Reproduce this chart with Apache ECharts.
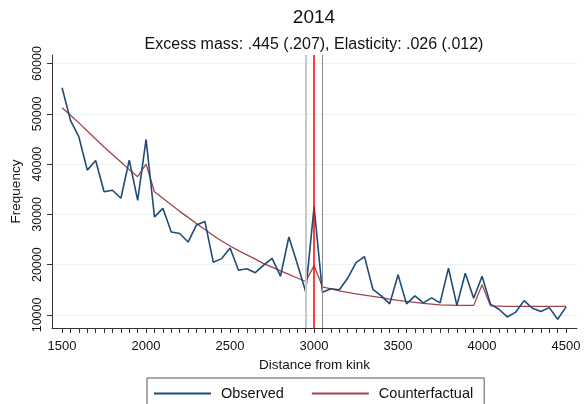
<!DOCTYPE html>
<html>
<head>
<meta charset="utf-8">
<script src="https://cdn.jsdelivr.net/npm/echarts@6/dist/echarts.min.js"></script>
<style>
html,body{margin:0;padding:0;background:#fff;}
#chart{width:585px;height:404px;}
</style>
</head>
<body>
<div id="chart"></div>
<script>
const distance = [1500,1550,1600,1650,1700,1750,1800,1850,1900,1950,2000,2050,2100,2150,2200,2250,2300,2350,2400,2450,2500,2550,2600,2650,2700,2750,2800,2850,2900,2950,3000,3050,3100,3150,3200,3250,3300,3350,3400,3450,3500,3550,3600,3650,3700,3750,3800,3850,3900,3950,4000,4050,4100,4150,4200,4250,4300,4350,4400,4450,4500];
const observed = [55200,48700,45400,38800,40700,34500,34800,33200,40800,32800,44900,29500,31200,26500,26200,24500,27900,28600,20500,21200,23300,18900,19200,18400,19900,21250,17700,25500,20200,14600,31500,14500,15200,15000,17300,20400,21600,15100,13800,12200,18000,12200,13800,12400,13400,12400,19300,11900,18300,13300,17700,12150,11130,9600,10550,12840,11330,10700,11450,9140,11600];
const counterfactual = [51200,49700,48200,46600,45000,43400,41900,40400,38900,37500,40000,34500,33200,31900,30600,29400,28200,27000,25800,24700,23700,22800,21950,21100,20200,19500,18750,18050,17350,16650,19800,15600,15200,14800,14500,14200,13950,13700,13450,13150,12900,12700,12500,12300,12150,12000,11950,11900,11900,11900,16000,11800,11750,11700,11700,11700,11700,11700,11700,11700,11700];
const xLabels = [1500,2000,2500,3000,3500,4000,4500];
const yLabels = [10000,20000,30000,40000,50000,60000];
const kink = 3000;
const windowLow = 2950;
const windowHigh = 3050;

const FONT = '"Liberation Sans", Arial, sans-serif';
const chart = echarts.init(document.getElementById('chart'), null, {renderer:'canvas'});
chart.setOption({
  animation:false,
  backgroundColor:'#ffffff',
  title:[
    {text:'2014', left:314, top:8, textAlign:'center', padding:0,
     textStyle:{fontFamily:FONT, fontSize:19, fontWeight:'normal', color:'#111'}},
    {text:'Excess mass: .445 (.207), Elasticity: .026 (.012)', left:314, top:37, textAlign:'center', padding:0,
     textStyle:{fontFamily:FONT, fontSize:16, fontWeight:'normal', color:'#111'}}
  ],
  legend:{
    data:['Observed','Counterfactual'],
    left:147, top:378,
    borderColor:'#555', borderWidth:1, borderRadius:0,
    backgroundColor:'#fff',
    padding:[8,11,8,6],
    itemWidth:57, itemHeight:14, itemGap:27,
    itemStyle:{opacity:0},
    textStyle:{fontFamily:FONT, fontSize:14.5, color:'#111', padding:[0,0,0,5]}
  },
  grid:{left:52, right:8, top:55, bottom:76},
  xAxis:{
    type:'value', min:1440, max:4565,
    name:'Distance from kink', nameLocation:'middle', nameGap:27,
    nameTextStyle:{fontFamily:FONT, fontSize:13.5, color:'#111'},
    axisLine:{show:true, lineStyle:{color:'#333', width:1}},
    axisTick:{show:true, length:5, customValues:distance, lineStyle:{color:'#333', width:1}},
    axisLabel:{customValues:xLabels, margin:12, fontFamily:FONT, fontSize:13, color:'#111', formatter:v=>String(v)},
    splitLine:{show:false}
  },
  yAxis:{
    type:'value', min:7400, max:61700,
    name:'Frequency', nameLocation:'middle', nameGap:25,
    nameTextStyle:{fontFamily:FONT, fontSize:13.5, color:'#111'},
    axisLine:{show:true, lineStyle:{color:'#333', width:1}},
    axisTick:{show:true, length:5, customValues:yLabels, lineStyle:{color:'#333', width:1}},
    axisLabel:{customValues:yLabels, rotate:90, margin:8, fontFamily:FONT, fontSize:12.5, color:'#111', formatter:v=>String(v)},
    splitLine:{show:true, lineStyle:{color:'#eaf2f3', width:1}}
  },
  series:[
    {
      name:'Observed', type:'line', symbol:'none',
      data:distance.map((d,i)=>[d, observed[i]]),
      lineStyle:{color:'#1f4b74', width:1.6},
      itemStyle:{color:'#1f4b74'},
      z:3,
      markLine:{
        silent:true, symbol:'none', label:{show:false}, animation:false,
        data:[
          {xAxis:windowLow, lineStyle:{color:'#c8c8c8', width:2, type:'solid'}},
          {xAxis:windowHigh, lineStyle:{color:'#8a8a8a', width:1, type:'solid'}},
          {xAxis:kink, lineStyle:{color:'#ff0000', width:1.5, type:'solid'}}
        ]
      }
    },
    {
      name:'Counterfactual', type:'line', symbol:'none',
      data:distance.map((d,i)=>[d, counterfactual[i]]),
      lineStyle:{color:'#a0454a', width:1.3},
      itemStyle:{color:'#a0454a'},
      z:2
    }
  ]
});
</script>
</body>
</html>
